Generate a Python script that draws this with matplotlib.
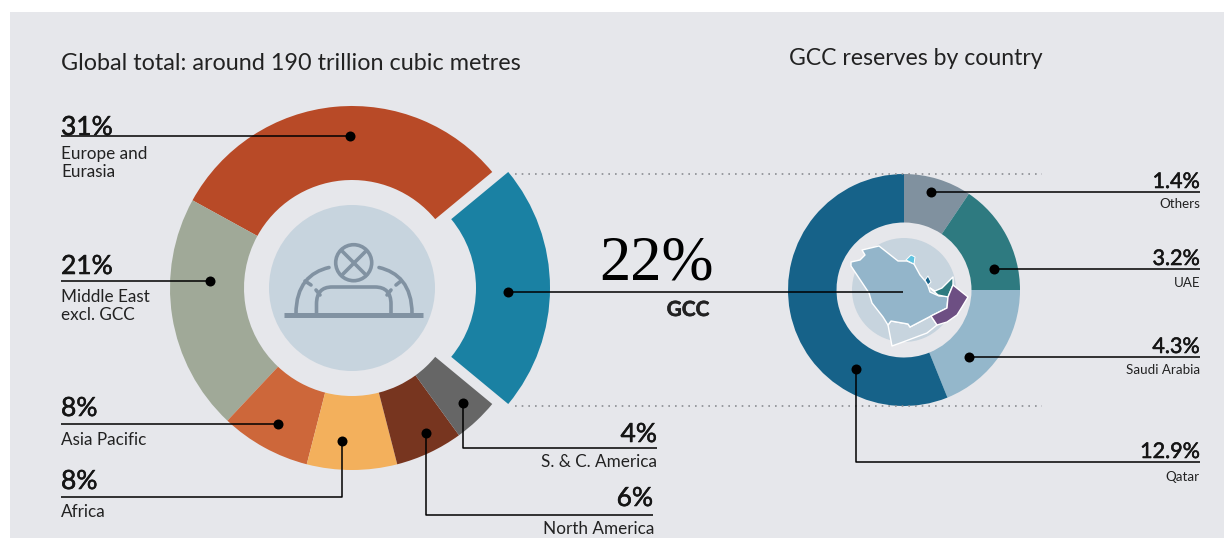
# -*- coding: utf-8 -*-
import matplotlib
matplotlib.use("Agg")
import matplotlib.pyplot as plt
import matplotlib.patheffects as pe
from matplotlib.patches import Circle, Polygon, PathPatch, Rectangle
from matplotlib.path import Path

plt.rcParams["font.family"] = ["Lato", "DejaVu Sans"]

# global reserves, share in %
world_names = ["Europe and\nEurasia", "Middle East\nexcl. GCC", "Asia Pacific", "Africa",
               "North America", "S. & C. America", "GCC"]
world_shares = [31, 21, 8, 8, 6, 4, 22]
world_labels = ["31%", "21%", "8%", "8%", "6%", "4%", "22%"]
world_colors = ["#b84a27", "#a0a998", "#cd673a", "#f3b05c", "#77351f", "#666666", "#1a81a3"]

# GCC reserves: the drawn slice sizes (deg) do not follow the numbers, so read them off
gcc_names = ["Others", "UAE", "Saudi Arabia", "Qatar"]
gcc_labels = ["1.4%", "3.2%", "4.3%", "12.9%"]
gcc_sweep = [34, 56, 68, 202]
gcc_colors = ["#80919f", "#2e7a80", "#94b7cb", "#166289"]

BG = "#e6e7eb"
PALE = "#c7d4de"
ICON = "#8192a2"

fig = plt.figure(figsize=(12.24, 5.38), dpi=100, facecolor="white")
ax = fig.add_axes([0, 0, 1, 1])

ax.add_patch(Rectangle((10, 12), 1220, 530, fc=BG, ec="none", zorder=0))

################
# left donut   #
################
ax.pie(world_shares, colors=world_colors, center=(352, 288), radius=182, startangle=-39.6,
       counterclock=False, explode=[0, 0, 0, 0, 0, 0, 16], frame=True,
       wedgeprops={"width": 74, "linewidth": 0})
ax.add_patch(Circle((352, 288), 83, fc=PALE, ec="none", zorder=2))

# pipeline icon in the middle
ax.plot([284, 423], [315, 315], color=ICON, lw=3.6, solid_capstyle="butt", zorder=3)
ax.add_patch(Circle((353.7, 262.7), 18, fc="none", ec=ICON, lw=2.6, zorder=3))
ax.plot([342, 366], [251, 275], color=ICON, lw=2.6, zorder=3)
ax.plot([366, 342], [251, 275], color=ICON, lw=2.6, zorder=3)
outer_l = Path([(296, 314), (296, 285), (310, 272), (329, 267.5)],
               [Path.MOVETO, Path.CURVE4, Path.CURVE4, Path.CURVE4])
outer_r = Path([(412, 314), (412, 285), (398, 272), (379, 267.5)],
               [Path.MOVETO, Path.CURVE4, Path.CURVE4, Path.CURVE4])
inner = Path([(316.5, 314), (316.5, 304), (316.5, 287), (332, 287), (375, 287), (391, 287),
              (391, 304), (391, 314)],
             [Path.MOVETO, Path.LINETO, Path.CURVE3, Path.CURVE3, Path.LINETO, Path.CURVE3,
              Path.CURVE3, Path.LINETO])
for p in [outer_l, outer_r, inner]:
    ax.add_patch(PathPatch(p, fc="none", ec=ICON, lw=2.6, capstyle="round", zorder=3))
for t in [((305, 281), (311, 285)), ((316, 290), (320, 295)), ((391, 290), (387, 295)), ((401, 281), (396, 285))]:
    ax.plot([t[0][0], t[1][0]], [t[0][1], t[1][1]], color=ICON, lw=2.6, solid_capstyle="round", zorder=3)

################
# right donut  #
################
ax.pie(gcc_sweep, colors=gcc_colors, center=(904, 290), radius=116, startangle=-90,
       counterclock=True, frame=True, wedgeprops={"width": 48.5, "linewidth": 0})
ax.add_patch(Circle((904, 290), 52, fc=PALE, ec="none", zorder=2))

# map of the gulf
saudi = [(862, 250), (879, 246), (898, 261), (907, 261), (914, 264), (920, 275), (926, 282), (928, 286),
         (930, 292), (939, 296), (948, 296), (947, 308), (931, 316), (910, 327), (908, 324), (891, 321),
         (888, 325), (883, 317), (872, 303), (869, 293), (865, 287), (851, 266), (851, 262), (860, 260),
         (865, 255)]
uae = [(930, 288), (935, 291), (942, 288), (948, 282), (953, 277), (953, 285), (948, 297), (938, 295)]
oman = [(953, 285), (968, 297), (962, 307), (957, 315), (947, 322), (937, 325), (931, 316), (947, 308),
        (948, 297)]
yemen = [(888, 325), (891, 321), (908, 324), (910, 327), (931, 316), (937, 325), (927, 333), (903, 342),
         (892, 346)]
kuwait = [(906, 260), (911, 255), (915, 257), (914, 264)]
qatar_map = [(925, 280), (928, 276), (931, 282), (928, 285)]
for pts, c, w in [(yemen, PALE, 1.0), (saudi, "#93b5ca", 1.0), (uae, "#2e7a80", 1.0), (oman, "#6d4f83", 1.0),
                  (kuwait, "#5fc3e0", 0.7), (qatar_map, "#166289", 0.7)]:
    ax.add_patch(Polygon(pts, closed=True, fc=c, ec="white", lw=w, joinstyle="round", zorder=3))

############
# callouts #
############
def leader(xs, ys):
    ax.plot(xs, ys, color="black", lw=1.1, solid_capstyle="butt", zorder=5)
    ax.plot(xs[0], ys[0], "o", color="black", ms=7.2, mew=0, zorder=6)

leader([350, 61], [136, 136])
leader([210, 61], [281, 281])
leader([278, 61], [424, 424])
leader([342, 342, 61], [441, 497, 497])
leader([426, 426, 653], [433, 514.5, 514.5])
leader([463, 463, 657], [403, 448, 448])
leader([508, 903], [291.5, 291.5])
leader([931, 1200], [192, 192])
leader([994, 1200], [269, 269])
leader([969, 1200], [357, 357])
leader([856, 856, 1200], [369, 462, 462])

for y in [174, 406]:
    ax.plot([515, 1042], [y, y], color="#8a8d92", lw=1.2, ls=(0, (1, 3)), zorder=1)

heavy = [pe.withStroke(linewidth=0.4, foreground="#151515")]
PCT = dict(fontsize=19, color="#151515", zorder=7, va="baseline", path_effects=heavy)
SUB = dict(fontsize=12.3, color="#222222", zorder=7, va="center", linespacing=1.12)

ax.text(61, 70, "Global total: around 190 trillion cubic metres", fontsize=16.85, color="#222222", va="baseline")
ax.text(789, 65, "GCC reserves by country", fontsize=16.6, color="#222222", va="baseline")

ax.text(61, 135, world_labels[0], ha="left", **PCT)
ax.text(61, 163, world_names[0], ha="left", **SUB)
ax.text(61, 274, world_labels[1], ha="left", **PCT)
ax.text(61, 306, world_names[1], ha="left", **SUB)
ax.text(61, 416, world_labels[2], ha="left", **PCT)
ax.text(61, 440, world_names[2], ha="left", **SUB)
ax.text(61, 489, world_labels[3], ha="left", **PCT)
ax.text(61, 512, world_names[3], ha="left", **SUB)
ax.text(653, 506, world_labels[4], ha="right", **PCT)
ax.text(654, 529, world_names[4], ha="right", **SUB)
ax.text(657, 442, world_labels[5], ha="right", **PCT)
ax.text(657, 462, world_names[5], ha="right", **SUB)

ax.text(657, 279, world_labels[6], ha="center", va="baseline", fontsize=45, color="black",
        family=["Liberation Serif", "DejaVu Serif"], zorder=7)
ax.text(688, 310, world_names[6], ha="center", va="center", fontsize=15, fontweight="bold", color="#222222",
        zorder=7, path_effects=[pe.withStroke(linewidth=0.4, foreground="#222222")])

for lab, name, yp, yn in zip(gcc_labels, gcc_names, [188, 265, 353, 458], [204, 283, 370, 477]):
    ax.text(1200, yp, lab, ha="right", fontsize=15.5, color="#151515", va="baseline", zorder=7, path_effects=heavy)
    ax.text(1200, yn, name, ha="right", fontsize=9.6, color="#222222", va="center", zorder=7)

ax.set_xlim(0, 1224)
ax.set_ylim(538, 0)
ax.axis("off")

fig.savefig("out.png", dpi=100, facecolor="white")
